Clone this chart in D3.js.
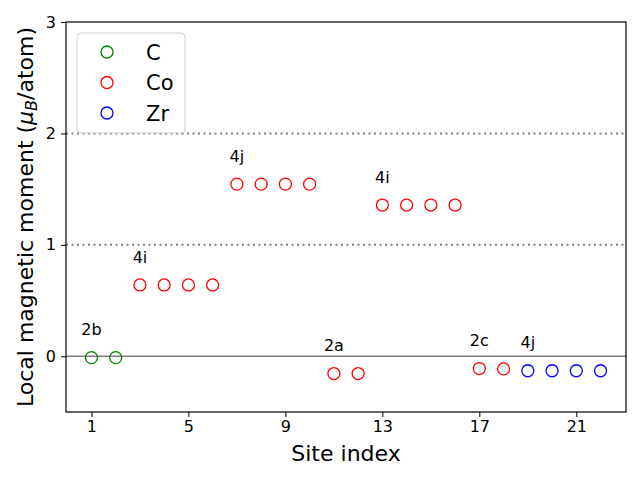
<!DOCTYPE html>
<html><head><meta charset="utf-8">
<script src="https://cdn.jsdelivr.net/npm/d3@7"></script>
<style>body{margin:0;background:#fff}text{font-family:"DejaVu Sans",sans-serif}</style>
</head><body><svg id="c" width="640" height="480"></svg>
<script>
const cSites = [1, 2];
const cValues = [-0.012, -0.012];
const coSites = [3, 4, 5, 6, 7, 8, 9, 10, 11, 12, 13, 14, 15, 16, 17, 18];
const coValues = [0.64, 0.64, 0.64, 0.64, 1.545, 1.545, 1.545, 1.545, -0.155, -0.155, 1.357, 1.357, 1.357, 1.357, -0.11, -0.113];
const zrSites = [19, 20, 21, 22];
const zrValues = [-0.13, -0.13, -0.13, -0.13];
const siteLabels = ["2b", "4i", "4j", "2a", "4i", "2c", "4j"];
const labelX = [1, 3, 7, 11, 13, 17, 19];
const labelY = [0.19, 0.84, 1.745, 0.045, 1.557, 0.09, 0.07];
const xTicks = [1, 5, 9, 13, 17, 21];
const yTicks = [0, 1, 2, 3];
const refLines = [1, 2];
const series = [
  {name: "C", color: "green", sites: cSites, values: cValues},
  {name: "Co", color: "red", sites: coSites, values: coValues},
  {name: "Zr", color: "blue", sites: zrSites, values: zrValues}
];

const svg = d3.select("#c");
const L = 66, R = 626, T = 22, B = 412;
const x = d3.scaleLinear().domain([-0.05, 23.05]).range([L, R]);
const y = d3.scaleLinear().domain([-0.5, 3]).range([B, T]);

// reference lines
svg.append("g").selectAll("line").data(refLines).join("line")
  .attr("x1", L).attr("x2", R).attr("y1", d => y(d)).attr("y2", d => y(d))
  .attr("stroke", "#808080").attr("stroke-width", 2).attr("stroke-dasharray", "2,3.5");
svg.append("line").attr("x1", L).attr("x2", R).attr("y1", y(0)).attr("y2", y(0))
  .attr("stroke", "#808080").attr("stroke-width", 1.5);

// points
series.forEach(s => {
  svg.append("g").selectAll("circle").data(s.sites.map((d, i) => [d, s.values[i]])).join("circle")
    .attr("cx", d => x(d[0])).attr("cy", d => y(d[1])).attr("r", 6)
    .attr("fill", "none").attr("stroke", s.color).attr("stroke-width", 1.3);
});

// labels
svg.append("g").selectAll("text").data(siteLabels).join("text")
  .attr("x", (d, i) => x(labelX[i])).attr("y", (d, i) => y(labelY[i]))
  .attr("text-anchor", "middle").attr("font-size", 16).attr("fill", "#000").text(d => d);

// axes
const xAxis = svg.append("g").attr("transform", `translate(0,${B})`)
  .call(d3.axisBottom(x).tickValues(xTicks).tickSize(5).tickPadding(4).tickFormat(d3.format("d")));
const yAxis = svg.append("g").attr("transform", `translate(${L},0)`)
  .call(d3.axisLeft(y).tickValues(yTicks).tickSize(5).tickPadding(5).tickFormat(d3.format("d")));
[xAxis, yAxis].forEach(g => {
  g.select(".domain").remove();
  g.selectAll("text").attr("font-size", 16).attr("font-family", "DejaVu Sans").attr("fill", "#000");
  g.selectAll("line").attr("stroke", "#000").attr("stroke-width", 1);
});
svg.append("rect").attr("x", L).attr("y", T).attr("width", R - L).attr("height", B - T)
  .attr("fill", "none").attr("stroke", "#000").attr("stroke-width", 1.2);

// axis titles
svg.append("text").attr("x", (L + R) / 2).attr("y", 461).attr("text-anchor", "middle")
  .attr("font-size", 22).text("Site index");
const yl = svg.append("text").attr("transform", `translate(33,${(T + B) / 2}) rotate(-90)`)
  .attr("text-anchor", "middle").attr("font-size", 22);
yl.append("tspan").text("Local magnetic moment (");
yl.append("tspan").attr("font-style", "italic").text("μ");
yl.append("tspan").attr("font-style", "italic").attr("font-size", 16).attr("dy", 4).text("B");
yl.append("tspan").attr("dy", -4).text("/atom)");

// legend
const lg = svg.append("g");
lg.append("rect").attr("x", 77).attr("y", 33).attr("width", 108).attr("height", 100).attr("rx", 4)
  .attr("fill", "#fff").attr("fill-opacity", 0.8).attr("stroke", "#ccc").attr("stroke-width", 1);
series.forEach((s, i) => {
  const cy = 52 + i * 30.5;
  lg.append("circle").attr("cx", 107).attr("cy", cy).attr("r", 6)
    .attr("fill", "none").attr("stroke", s.color).attr("stroke-width", 1.3);
  lg.append("text").attr("x", 146).attr("y", cy + 7.5).attr("font-size", 21).text(s.name);
});
</script></body></html>
